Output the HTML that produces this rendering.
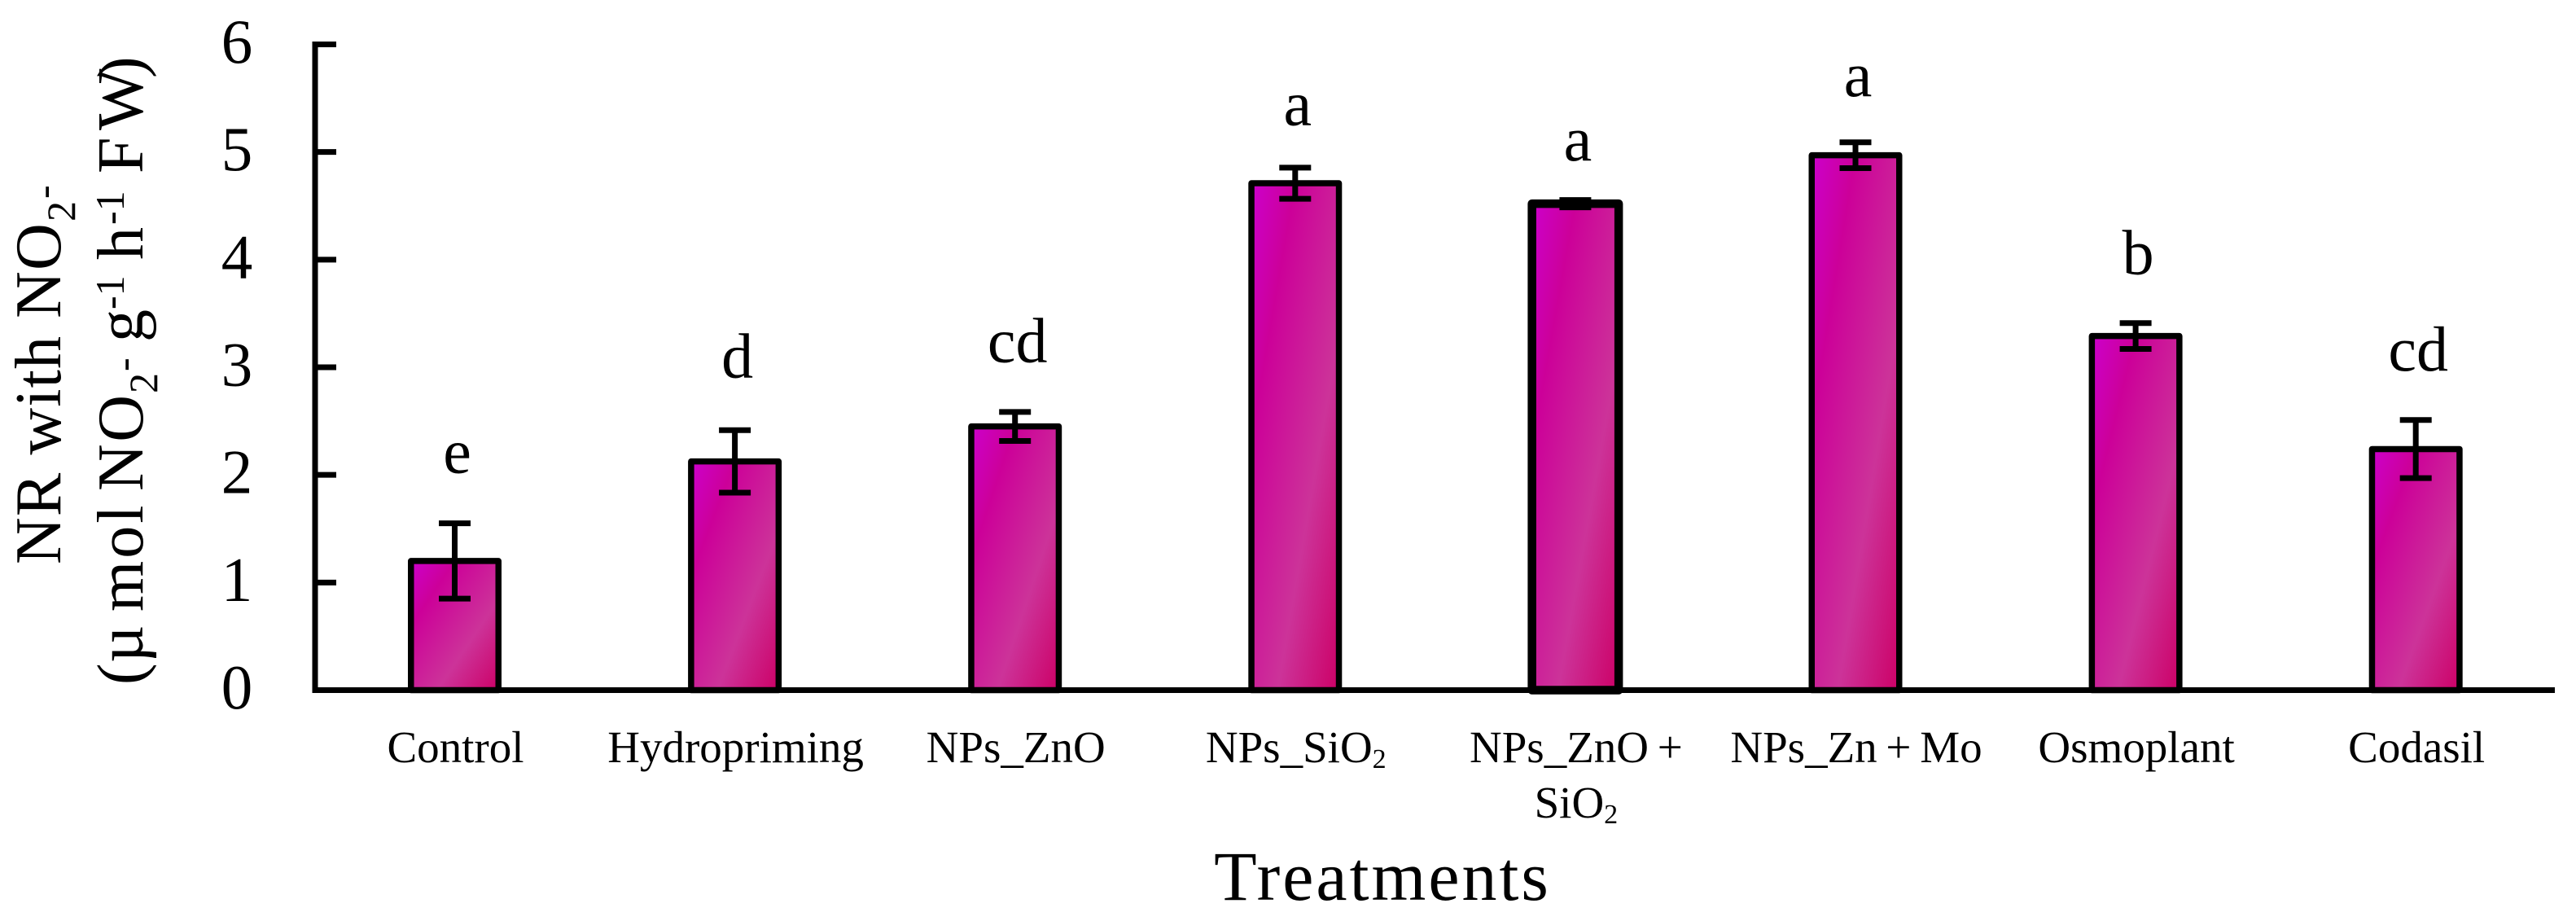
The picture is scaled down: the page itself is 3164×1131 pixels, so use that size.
<!DOCTYPE html>
<html lang="en">
<head>
<meta charset="utf-8">
<title>NR with NO2- by treatment</title>
<style>
html,body{margin:0;padding:0;background:#fff;}
svg{display:block;}
text{font-family:"Liberation Serif",serif;fill:#000;}
</style>
</head>
<body>
<svg id="chart" xmlns="http://www.w3.org/2000/svg" width="3164" height="1131" viewBox="0 0 3164 1131">
  <defs>
    <linearGradient id="barFill" x1="0" y1="0" x2="1" y2="1">
      <stop offset="0" stop-color="#cc00cc"/>
      <stop offset="0.25" stop-color="#cc0099"/>
      <stop offset="0.65" stop-color="#cc3399"/>
      <stop offset="1" stop-color="#cc0066"/>
    </linearGradient>
  </defs>
  <rect x="0" y="0" width="3164" height="1131" fill="#ffffff"/>
  <g id="bars"></g>
  <g id="axes"></g>
  <g id="errors"></g>
  <g id="letters"></g>
  <g id="labels"></g>
  <text transform="rotate(-90)" font-size="80"><tspan x="-693" y="74" letter-spacing="1.1">NR with NO</tspan><tspan x="-272" y="92" font-size="50">2</tspan><tspan x="-244" y="70" font-size="50">-</tspan></text>
  <text transform="rotate(-90)" font-size="80"><tspan x="-841" y="175">(</tspan><tspan x="-814" y="175">µ</tspan><tspan x="-751" y="175" letter-spacing="3">mol</tspan><tspan x="-603" y="175" letter-spacing="2.5">NO</tspan><tspan x="-483" y="193" font-size="50">2</tspan><tspan x="-456" y="168" font-size="50">-</tspan><tspan x="-420" y="175">g</tspan><tspan x="-380" y="152" font-size="50">-1</tspan><tspan x="-319" y="175">h</tspan><tspan x="-276" y="152" font-size="50">-1</tspan><tspan x="-213" y="175">F</tspan><tspan x="-160" y="175">W</tspan><tspan x="-96" y="175">)</tspan></text>
  <text x="1698" y="1105" font-size="86" letter-spacing="3" text-anchor="middle">Treatments</text>
</svg>
<script>
const categories = ["Control", "Hydropriming", "NPs_ZnO", "NPs_SiO2", "NPs_ZnO +\nSiO2", "NPs_Zn + Mo", "Osmoplant", "Codasil"];
const meanValues = [1.2, 2.125, 2.45, 4.71, 4.52, 4.97, 3.29, 2.24];
const errorValues = [0.35, 0.29, 0.135, 0.145, 0.034, 0.12, 0.12, 0.27];
const letterLabels = ["e", "d", "cd", "a", "a", "a", "b", "cd"];
const letterLevels = [2.02, 2.905, 3.05, 5.25, 4.92, 5.52, 3.865, 2.97];
const yTickValues = [0, 1, 2, 3, 4, 5, 6];

const NS = "http://www.w3.org/2000/svg";
const plot = { left: 387, right: 3138, zeroY: 847.5, unitY: 132.17, firstX: 558.5, stepX: 344.1 };
const emphasisIndex = 4;

function yScale(v) { return plot.zeroY - v * plot.unitY; }
function xScale(i) { return plot.firstX + i * plot.stepX; }
function make(tag, attrs) {
  const el = document.createElementNS(NS, tag);
  for (const k in attrs) el.setAttribute(k, attrs[k]);
  return el;
}
function slug(s) { return s.toLowerCase().replace(/[^a-z0-9]+/g, "-").replace(/^-|-$/g, ""); }
function appendSubscripted(textEl, str, x, y, size) {
  const m = str.match(/^(.*?)(2)$/);
  if (!m || !/O2$/.test(str)) {
    const t = make("tspan", { x: x, y: y });
    t.textContent = str;
    textEl.appendChild(t);
    return;
  }
  const main = make("tspan", { x: x, y: y });
  main.textContent = m[1];
  const sub = make("tspan", { dy: 7, "font-size": size * 0.62 });
  sub.textContent = m[2];
  textEl.appendChild(main);
  textEl.appendChild(sub);
}

const barsG = document.getElementById("bars");
const axesG = document.getElementById("axes");
const errorsG = document.getElementById("errors");
const lettersG = document.getElementById("letters");
const labelsG = document.getElementById("labels");

categories.forEach(function (cat, i) {
  const name = slug(cat);
  const cx = xScale(i);
  const thick = i === emphasisIndex;
  const top = yScale(meanValues[i]);

  const bar = make("rect", {
    x: cx - (thick ? 53.25 : 53.75),
    y: top,
    width: thick ? 106.5 : 107.5,
    height: plot.zeroY - top,
    fill: "url(#barFill)",
    stroke: "#000",
    "stroke-width": thick ? 10.5 : 7.5,
    "stroke-linejoin": "round"
  });
  
  
  barsG.appendChild(bar);

  const upper = yScale(meanValues[i] + errorValues[i]);
  const lower = yScale(meanValues[i] - errorValues[i]);
  const err = make("path", {
    d: "M" + (cx - 19.5) + " " + upper + "H" + (cx + 19.5) +
       "M" + cx + " " + upper + "V" + lower +
       "M" + (cx - 19.5) + " " + lower + "H" + (cx + 19.5),
    fill: "none",
    stroke: "#000",
    "stroke-width": 7
  });
  
  
  errorsG.appendChild(err);

  const letter = make("text", {
    x: cx + 3,
    y: yScale(letterLevels[i]),
    "font-size": 78,
    "text-anchor": "middle"
  });
  letter.textContent = letterLabels[i];
  
  
  lettersG.appendChild(letter);

  const label = make("text", { "font-size": 55, "text-anchor": "middle", "word-spacing": -3 });
  cat.split("\n").forEach(function (line, li) {
    appendSubscripted(label, line, cx + 1, 936 + li * 68, 55);
  });
  
  
  labelsG.appendChild(label);
});

const yAxisLine = make("path", {
  d: "M" + plot.left + " " + (yScale(yTickValues[yTickValues.length - 1]) - 3.5) + "V" + (plot.zeroY + 3.5),
  fill: "none", stroke: "#000", "stroke-width": 7
});


axesG.appendChild(yAxisLine);

const xAxisLine = make("path", {
  d: "M" + (plot.left - 3.5) + " " + plot.zeroY + "H" + plot.right,
  fill: "none", stroke: "#000", "stroke-width": 7
});


axesG.appendChild(xAxisLine);

yTickValues.forEach(function (v) {
  const y = yScale(v);
  if (v !== 0) {
    const tick = make("path", {
      d: "M" + plot.left + " " + y + "H413",
      fill: "none", stroke: "#000", "stroke-width": 7
    });
    
    
    axesG.appendChild(tick);
  }
  const lab = make("text", { x: 291, y: y + 22.5, "font-size": 77, "text-anchor": "middle" });
  lab.textContent = String(v);
  
  
  labelsG.appendChild(lab);
});
</script>
</body>
</html>
